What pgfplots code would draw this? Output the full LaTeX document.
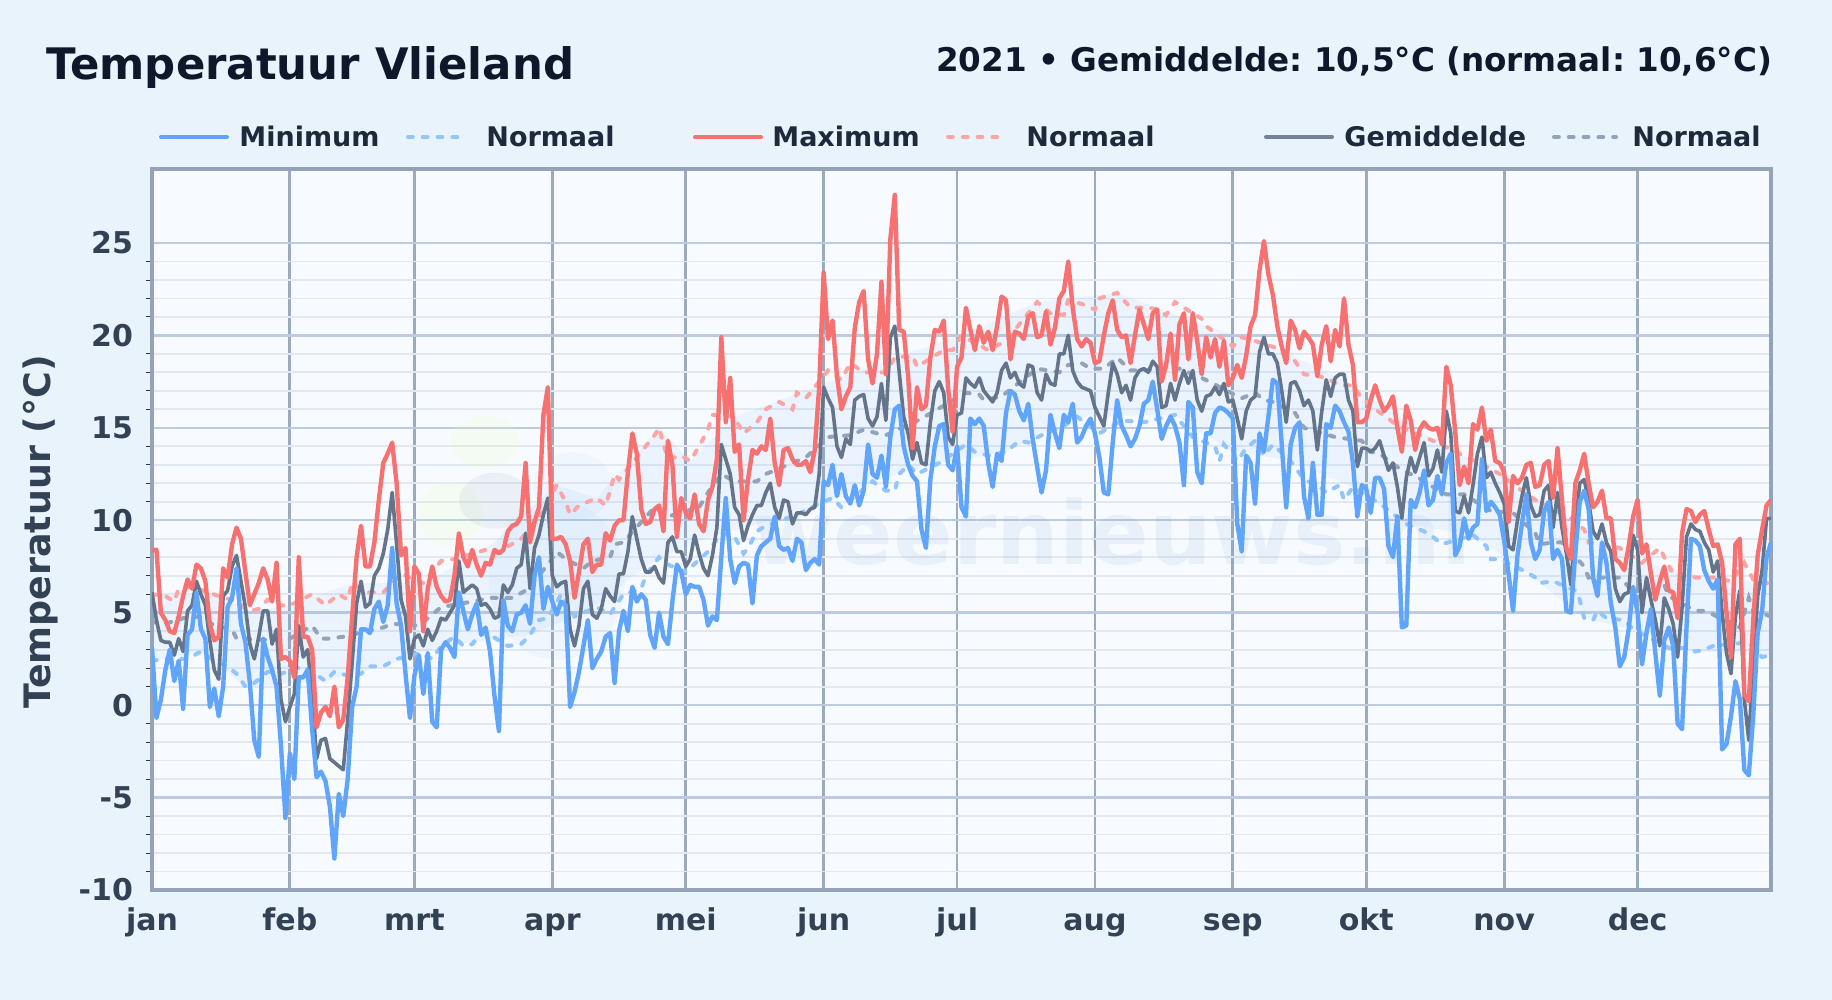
\documentclass[border=0pt]{standalone}
\usepackage{fontspec}
\setmainfont{DejaVu Sans}
\usepackage{pgfplots}
\usepackage{pgfplotstable}
\pgfplotsset{compat=1.18}
\definecolor{pagebg}{HTML}{E8F3FC}
\definecolor{plotbg}{HTML}{F7FBFF}
\definecolor{cmin}{HTML}{60A5FA}
\definecolor{cmax}{HTML}{F87171}
\definecolor{cavg}{HTML}{64748B}
\definecolor{nmin}{HTML}{93C5FD}
\definecolor{nmax}{HTML}{FCA5A5}
\definecolor{navg}{HTML}{94A3B8}
\definecolor{ctitle}{HTML}{0F172A}
\definecolor{clegend}{HTML}{1E293B}
\definecolor{ctick}{HTML}{334155}
\definecolor{cframe}{HTML}{94A3B8}
\definecolor{gmaj}{HTML}{BECADD}
\definecolor{gmin}{HTML}{E2E8F0}
\definecolor{gmon}{HTML}{9CAABE}
\definecolor{wmark}{HTML}{5B8FC9}
\pgfplotstableread{
d mn av mx
0 3.1 6.1 8.4
1 -0.7 4.6 8.4
2 0.3 3.5 5.0
3 1.9 3.4 4.6
4 3.0 3.4 4.0
5 1.3 2.7 3.9
6 2.4 3.6 4.8
7 -0.2 2.9 5.9
8 3.8 5.1 6.8
9 4.1 5.4 6.3
10 6.1 6.7 7.6
11 4.1 6.0 7.4
12 3.6 5.4 6.7
13 -0.1 3.5 4.4
14 0.9 1.9 3.5
15 -0.6 1.4 3.7
16 1.0 5.9 7.4
17 5.3 6.2 6.9
18 5.8 7.5 8.7
19 7.4 8.1 9.6
20 4.4 6.7 9.0
21 3.4 5.3 7.2
22 1.2 3.3 5.4
23 -1.9 2.5 6.0
24 -2.8 3.7 6.6
25 3.6 5.1 7.4
26 2.6 5.1 6.8
27 1.9 3.3 5.6
28 1.0 4.1 7.7
29 -2.2 0.3 2.5
30 -6.1 -0.9 2.6
31 -2.6 -0.1 2.4
32 -4.0 0.6 1.5
33 1.5 4.3 8.0
34 1.5 2.6 3.7
35 1.9 3.0 3.7
36 -1.3 0.6 3.0
37 -3.9 -2.9 -1.2
38 -3.6 -1.9 -0.4
39 -4.1 -1.8 -0.1
40 -5.5 -2.9 -0.6
41 -8.3 -3.1 1.0
42 -4.8 -3.3 -1.2
43 -6.0 -3.5 -0.8
44 -4.0 -0.8 1.5
45 -0.1 2.3 4.8
46 1.0 5.5 8.0
47 4.1 6.7 9.7
48 4.1 5.3 7.5
49 3.9 5.5 7.5
50 5.2 7.0 8.8
51 5.6 7.4 11.1
52 4.5 8.2 13.1
53 5.4 9.5 13.6
54 8.5 11.5 14.2
55 5.5 8.7 12.0
56 4.3 5.7 8.1
57 1.7 4.8 8.5
58 -0.7 2.5 4.0
59 1.6 3.6 7.5
60 2.7 3.8 7.1
61 0.6 3.2 4.0
62 2.8 4.1 6.3
63 -0.9 3.5 7.5
64 -1.2 4.0 6.4
65 3.0 4.7 5.9
66 3.4 4.6 5.6
67 3.1 5.0 5.7
68 2.6 5.4 7.0
69 6.1 7.8 9.3
70 5.1 6.1 8.0
71 4.1 6.3 7.5
72 4.9 6.5 8.4
73 5.5 6.3 7.6
74 3.8 5.4 7.0
75 4.2 5.5 7.7
76 2.9 5.2 7.6
77 0.5 4.7 8.4
78 -1.4 4.8 8.2
79 5.7 6.5 8.4
80 4.3 6.1 9.4
81 4.0 6.5 9.7
82 4.9 7.4 9.8
83 5.0 7.6 10.2
84 5.4 9.3 13.1
85 4.4 6.3 8.8
86 7.0 8.5 9.9
87 8.0 9.2 10.7
88 5.2 10.3 15.7
89 6.4 11.2 17.2
90 5.6 7.0 9.0
91 4.9 6.4 9.0
92 5.6 6.6 9.1
93 5.4 6.7 8.7
94 -0.1 4.1 7.8
95 0.7 3.2 5.8
96 1.8 4.3 7.2
97 3.2 6.3 8.7
98 4.6 6.7 9.0
99 2.0 4.9 7.2
100 2.5 4.7 7.6
101 2.9 5.2 7.6
102 3.7 6.3 9.3
103 3.9 5.9 8.9
104 1.2 5.6 9.7
105 4.0 7.1 10.0
106 5.1 7.1 10.0
107 4.0 8.3 12.6
108 6.4 10.2 14.7
109 5.6 9.0 13.6
110 6.0 7.9 10.6
111 5.7 7.2 9.8
112 3.8 7.2 9.9
113 3.1 7.5 10.6
114 5.0 6.9 10.8
115 3.7 6.6 9.4
116 3.3 8.8 14.3
117 5.6 9.1 13.0
118 7.6 8.3 9.1
119 7.2 8.3 11.2
120 6.0 7.5 10.4
121 6.5 7.9 10.1
122 6.4 9.2 11.4
123 6.4 8.2 9.8
124 5.7 7.4 9.4
125 4.3 7.0 11.1
126 4.8 8.1 11.8
127 4.6 9.6 13.3
128 8.0 14.1 19.9
129 11.2 13.3 15.3
130 7.9 12.5 17.7
131 6.6 10.7 13.7
132 7.5 10.3 14.1
133 7.7 8.9 10.0
134 7.6 9.7 12.2
135 5.5 10.3 13.8
136 8.1 10.8 13.6
137 8.6 10.8 14.0
138 8.8 11.5 13.8
139 9.0 12.0 15.5
140 10.2 10.7 13.1
141 8.6 10.1 11.9
142 8.4 11.1 13.8
143 8.5 11.0 13.9
144 7.8 9.8 13.3
145 9.0 10.4 13.0
146 8.8 10.4 13.0
147 7.3 10.3 13.2
148 7.7 10.6 12.6
149 7.9 10.7 13.8
150 7.6 12.5 17.2
151 12.1 17.2 23.4
152 11.9 16.6 19.8
153 13.0 16.1 20.8
154 11.3 14.0 17.8
155 12.5 13.4 16.0
156 11.3 14.4 16.7
157 10.9 14.1 17.2
158 11.9 16.5 20.4
159 10.8 16.7 21.8
160 11.6 16.8 22.4
161 14.1 15.5 18.7
162 12.5 15.1 17.4
163 12.3 15.6 19.0
164 13.5 17.4 22.9
165 11.8 15.4 17.9
166 14.5 19.9 25.2
167 16.0 20.5 27.6
168 16.2 18.0 20.3
169 14.0 15.6 20.2
170 13.0 14.7 17.8
171 12.4 13.3 13.9
172 12.1 14.2 17.2
173 9.5 13.1 16.0
174 8.5 13.0 16.2
175 12.2 15.3 18.8
176 14.0 17.0 20.3
177 15.1 17.5 20.2
178 15.2 16.9 20.8
179 13.0 14.5 17.1
180 12.7 14.1 14.8
181 14.0 15.7 18.3
182 10.7 15.8 18.8
183 10.2 17.7 21.5
184 15.5 17.4 20.3
185 15.2 17.2 19.2
186 15.5 17.7 20.5
187 15.1 17.0 19.6
188 13.1 16.7 20.2
189 11.8 16.4 19.2
190 13.6 16.9 20.5
191 13.2 18.1 22.1
192 15.8 18.5 21.9
193 17.0 17.7 18.7
194 16.8 18.0 20.2
195 15.9 17.4 20.1
196 15.4 17.2 19.8
197 16.3 18.4 21.0
198 14.4 18.3 21.2
199 12.9 16.9 19.9
200 11.5 16.5 20.0
201 12.7 17.9 21.3
202 15.7 17.4 19.5
203 14.7 17.3 20.4
204 13.9 19.0 22.0
205 15.7 19.0 22.4
206 15.3 20.0 24.0
207 16.3 18.1 21.5
208 14.2 17.5 19.8
209 14.5 17.2 19.4
210 15.1 17.1 19.8
211 15.5 17.0 19.6
212 14.7 16.1 18.5
213 13.4 15.6 18.6
214 11.5 15.1 20.0
215 11.4 16.9 21.2
216 14.2 18.5 21.9
217 16.5 17.9 20.3
218 15.1 16.9 19.9
219 14.6 17.3 20.0
220 14.0 16.5 18.5
221 14.4 17.7 20.0
222 15.1 18.1 21.4
223 16.3 18.2 20.6
224 16.5 18.0 19.8
225 17.5 18.6 21.2
226 16.0 18.3 21.4
227 14.4 16.1 17.5
228 15.1 16.2 18.4
229 15.6 17.4 20.1
230 15.1 16.5 17.6
231 14.2 17.4 20.6
232 11.9 18.1 21.2
233 16.4 17.4 18.7
234 16.1 18.1 21.2
235 12.6 16.5 19.7
236 12.0 15.9 17.9
237 14.7 16.7 19.9
238 14.7 16.8 18.8
239 15.8 17.2 19.8
240 16.1 16.8 18.3
241 16.0 17.4 19.7
242 15.8 16.4 17.3
243 15.5 16.5 17.7
244 9.8 15.5 18.4
245 8.3 14.4 17.7
246 13.5 15.9 18.9
247 13.1 16.5 20.5
248 10.9 16.7 21.1
249 14.7 19.1 23.5
250 13.7 19.9 25.1
251 15.6 19.0 23.3
252 17.6 19.0 22.2
253 17.4 18.5 20.5
254 14.1 17.0 19.4
255 10.7 15.3 18.5
256 14.1 17.4 20.8
257 15.0 17.5 20.3
258 15.3 17.0 19.3
259 11.3 16.2 20.2
260 10.1 16.5 19.9
261 13.1 15.9 19.5
262 10.3 13.8 17.8
263 10.3 15.9 19.5
264 15.2 17.6 20.5
265 15.0 16.7 18.6
266 16.2 17.7 20.3
267 15.9 17.9 19.4
268 15.3 17.9 22.0
269 14.8 16.5 19.5
270 13.1 15.9 18.4
271 10.2 12.9 15.3
272 11.9 13.9 15.3
273 11.7 13.9 15.5
274 10.4 13.7 16.5
275 12.3 13.9 17.3
276 12.3 14.3 16.5
277 11.7 13.5 15.9
278 8.6 12.7 16.2
279 8.0 13.1 16.7
280 10.2 11.8 15.0
281 4.2 10.1 13.7
282 4.3 12.3 16.2
283 11.1 13.4 15.4
284 10.7 12.6 13.8
285 11.5 13.4 14.9
286 12.7 14.2 15.3
287 10.8 12.4 15.0
288 11.1 12.8 14.9
289 12.4 13.8 15.0
290 11.4 12.6 14.1
291 13.1 15.9 18.3
292 13.6 14.7 17.3
293 8.1 10.5 14.8
294 8.6 10.4 11.9
295 10.1 11.3 12.9
296 9.0 10.4 12.0
297 9.6 11.9 15.2
298 9.8 13.6 14.9
299 13.3 14.5 16.1
300 10.5 12.3 14.3
301 11.0 12.6 14.9
302 10.7 12.0 13.2
303 10.3 11.5 13.1
304 8.9 10.9 12.6
305 7.1 8.6 9.9
306 5.1 8.4 12.4
307 8.1 10.0 12.0
308 9.8 11.3 12.3
309 11.4 12.3 13.0
310 8.8 10.8 13.1
311 7.9 10.2 11.8
312 8.4 10.3 11.9
313 10.5 11.6 13.0
314 11.0 11.9 13.2
315 7.9 9.6 11.2
316 8.4 11.5 13.9
317 7.9 9.6 11.1
318 5.1 8.2 8.5
319 5.0 6.5 7.9
320 8.2 9.7 12.0
321 11.0 12.0 12.7
322 11.6 12.2 13.6
323 10.6 11.0 12.0
324 6.9 9.4 10.7
325 5.9 9.0 11.0
326 8.8 9.8 11.6
327 7.7 8.8 10.1
328 5.5 8.3 10.1
329 4.2 6.3 7.9
330 2.1 5.6 7.7
331 2.6 6.0 7.3
332 4.1 6.1 8.6
333 6.4 9.2 10.2
334 5.0 8.4 11.1
335 2.2 5.0 8.2
336 3.9 6.9 8.7
337 5.2 5.7 7.1
338 2.8 4.6 5.7
339 0.5 3.2 6.7
340 3.5 5.8 7.5
341 4.2 5.2 6.2
342 3.2 4.4 6.1
343 -1.0 2.6 4.7
344 -1.3 5.3 9.3
345 4.2 9.1 10.6
346 9.0 9.8 10.5
347 8.9 9.5 9.9
348 8.6 9.4 10.3
349 7.3 8.8 10.5
350 6.7 8.4 9.5
351 6.3 7.2 8.6
352 6.8 7.8 8.7
353 -2.4 5.0 7.7
354 -2.1 2.8 5.0
355 -0.6 1.7 2.6
356 1.3 4.8 8.7
357 0.3 6.2 9.0
358 -3.5 0.3 0.6
359 -3.8 -1.9 0.2
360 -0.6 2.1 4.6
361 3.9 5.9 8.1
362 5.1 7.3 9.5
363 8.0 10.1 10.8
364 8.8 10.1 11.1
}\daily
\pgfplotstableread{
d v
0 2.4
3 2.5
8 2.5
11 2.9
14 2.4
17 2.1
19 1.7
21 1.0
23 1.2
26 1.8
29 1.7
34 2.1
36 1.8
39 1.3
41 1.8
44 1.6
47 1.7
49 2.1
52 2.1
55 2.5
60 2.8
63 2.5
65 3.2
68 3.7
70 3.2
72 3.3
74 3.9
76 3.8
80 3.2
83 3.3
85 3.8
87 4.6
89 4.7
92 6.0
95 4.8
98 5.1
100 5.3
103 4.9
104 5.3
106 6.0
110 6.3
111 7.0
114 8.0
116 7.6
120 7.2
125 8.3
128 9.3
131 9.1
133 8.2
134 8.5
136 9.4
138 9.7
145 10.3
150 10.9
153 11.2
155 10.7
162 12.1
165 11.6
167 11.6
168 12.5
170 13.0
172 12.5
177 13.1
183 14.1
185 13.7
188 13.5
192 13.7
195 14.3
197 14.2
200 14.6
205 15.1
208 15.6
213 14.7
218 15.4
223 15.3
230 15.7
232 15.1
234 14.5
239 14.0
240 13.2
241 14.1
242 13.8
244 13.2
246 13.9
248 14.3
250 13.5
252 14.1
256 13.2
259 12.2
262 11.9
264 11.5
267 11.9
268 11.1
270 11.8
276 10.9
282 9.8
284 9.6
286 9.4
288 9.1
290 8.7
297 9.2
300 8.6
301 7.9
303 7.9
309 7.2
311 6.9
312 6.6
315 6.7
320 6.2
321 5.7
322 4.7
324 4.6
325 5.1
327 4.7
331 4.6
333 4.1
341 3.1
345 3.1
347 2.9
349 3.0
351 3.2
359 3.4
362 2.6
364 2.7
}\nmintab
\pgfplotstableread{
d v
0 6.0
3 5.9
5 5.6
6 6.3
9 6.4
15 5.9
18 5.7
22 5.1
24 5.2
26 5.7
29 5.4
31 5.4
36 6.0
39 5.4
42 6.0
44 5.7
45 6.6
48 6.1
52 6.1
56 7.1
61 6.6
65 7.8
68 7.9
75 8.4
78 8.3
83 9.0
88 10.5
91 11.9
93 11.0
94 10.3
96 10.8
98 11.0
100 11.2
102 10.8
103 11.6
104 12.5
105 12.2
106 12.5
111 14.0
113 14.6
114 15.0
115 14.1
116 13.3
119 13.5
121 13.2
123 14.0
125 14.9
126 15.7
131 15.6
132 15.1
133 14.7
136 15.3
138 16.0
141 16.4
144 16.0
145 16.9
147 16.6
149 17.2
152 18.1
155 17.6
157 18.5
160 18.0
165 18.0
167 18.8
171 18.9
172 18.3
178 19.2
180 19.2
182 20.0
188 19.2
192 19.7
199 21.8
202 21.2
205 21.1
206 21.9
209 21.7
212 21.4
213 22.0
217 22.3
220 21.5
224 21.5
226 21.4
228 21.1
230 21.8
236 20.9
237 20.5
242 19.6
243 19.4
245 19.9
248 19.7
253 19.3
257 18.6
259 17.9
262 17.8
264 17.7
267 17.3
270 17.3
272 16.6
275 16.0
278 15.5
280 15.1
289 14.2
294 13.6
300 12.9
303 12.5
308 11.6
311 11.1
319 10.1
322 9.5
323 8.8
330 8.5
335 7.7
339 8.5
340 8.0
342 7.1
347 6.9
351 6.9
355 6.7
358 7.7
360 6.8
362 6.6
364 6.6
}\nmaxtab
\pgfplotstableread{
d v
0 4.5
3 4.4
7 4.7
11 4.8
14 4.3
18 4.1
19 3.6
29 3.5
31 3.6
36 4.3
38 3.6
40 3.6
43 3.7
52 4.2
54 4.4
60 4.3
65 5.3
72 5.6
76 5.8
81 5.8
84 6.2
89 7.6
91 8.3
93 7.9
97 7.4
99 7.8
103 8.0
104 8.7
106 8.8
110 9.9
113 10.7
116 10.2
123 10.7
125 11.5
128 12.5
131 12.1
136 12.1
138 12.5
143 13.0
147 13.4
152 14.5
157 14.6
160 14.9
163 14.7
165 14.6
173 15.5
178 16.2
183 16.9
186 16.8
187 16.5
191 16.7
199 18.2
204 18.0
206 18.4
209 18.5
211 18.2
214 18.2
217 18.8
220 18.1
231 18.2
236 17.7
245 16.6
248 16.9
250 16.5
252 16.4
257 15.8
259 15.0
266 14.5
272 14.3
274 13.7
276 13.6
281 12.7
284 12.4
288 11.8
291 11.4
295 11.4
301 10.5
306 10.4
311 9.3
312 8.7
315 8.8
317 8.8
322 7.5
323 6.9
327 6.9
330 6.9
332 6.4
337 6.0
340 6.5
341 5.9
347 5.1
349 5.1
351 4.9
357 4.2
359 5.8
360 5.1
364 4.8
}\navgtab
\pgfplotstableread{
d v
0 6.0
15 5.9
22 5.1
31 5.4
45 6.6
61 6.6
75 8.4
91 11.9
100 11.2
114 15.0
121 13.2
131 15.6
149 17.2
167 18.8
182 20.0
199 21.8
217 22.3
237 20.5
253 19.3
270 17.3
289 14.2
303 12.5
322 9.5
335 7.7
351 6.9
364 6.6
364 2.7
347 2.9
333 4.1
322 4.7
309 7.2
297 9.2
282 9.8
270 11.8
256 13.2
242 13.8
230 15.7
208 15.6
192 13.7
177 13.1
162 12.1
145 10.3
128 9.3
114 8.0
98 5.1
85 3.8
65 3.2
52 2.1
39 1.3
21 1.0
11 2.9
0 2.4
}\bandtab
\frenchspacing
\begin{document}
\begin{tikzpicture}[x=1pt,y=1pt]
\fill[pagebg] (0,0) rectangle (916,500);
\begin{axis}[
  at={(76pt,55pt)}, anchor=south west,
  scale only axis, width=809.5pt, height=360.5pt,
  xmin=0, xmax=364, ymin=-10, ymax=29,
  axis background/.style={fill=plotbg},
  axis line style={draw=cframe, line width=1.6pt},
  xtick={0,31,59,90,120,151,181,212,243,273,304,334},
  xticklabels={jan,feb,mrt,apr,mei,jun,jul,aug,sep,okt,nov,dec},
  ytick={-10,-5,0,5,10,15,20,25},
  minor y tick num=4,
  xmajorgrids, ymajorgrids, yminorgrids,
  major x grid style={draw=gmon, line width=1.4pt},
  major y grid style={draw=gmaj, line width=1.2pt},
  minor y grid style={draw=gmin, line width=0.9pt},
  major tick length=0pt,
  minor tick length=3pt,
  minor tick style={draw=black!80, line width=0.4pt},
  tick align=outside,
  xtick pos=bottom, ytick pos=left,
  /pgf/number format/assume math mode=true,
  ticklabel style={font=\bfseries\fontsize{15}{17}\selectfont, text=ctick},
  xticklabel style={text height=11pt, text depth=3pt, yshift=-5.5pt},
  yticklabel style={xshift=-6pt},
  clip=true,
]
\node[anchor=base, text=wmark, opacity=.09, font=\bfseries\fontsize{44}{47}\selectfont] at (rel axis cs:0.593,0.452) {weernieuws.nl};
\fill[green!30!yellow!30, opacity=.15] (rel axis cs:0.2055,0.622) ellipse (17.5pt and 13pt);
\fill[green!30!yellow!30, opacity=.15] (rel axis cs:0.184,0.5215) ellipse (16pt and 16pt);
\fill[gmon, opacity=.13] (rel axis cs:0.212,0.54) ellipse (18pt and 14pt);
\fill[cmin, opacity=.05] (rel axis cs:0.26,0.56) ellipse (20pt and 17pt);
\fill[cmin, opacity=.05] (rel axis cs:0.25,0.43) ellipse (34pt and 40pt);
\addplot[fill=cmin, fill opacity=.08, draw=none] table[x=d,y=v] {\bandtab} -- cycle;
\addplot[color=nmax, line width=2pt, line cap=round, dash pattern=on 2.4pt off 5pt] table[x=d,y=v] {\nmaxtab};
\addplot[color=nmin, line width=2pt, line cap=round, dash pattern=on 2.4pt off 5pt] table[x=d,y=v] {\nmintab};
\addplot[color=navg, line width=2pt, line cap=round, dash pattern=on 2.4pt off 5pt] table[x=d,y=v] {\navgtab};
\addplot[color=cavg, line width=1.8pt, line join=round] table[x=d,y=av] {\daily};
\addplot[color=cmin, line width=2.2pt, line join=round] table[x=d,y=mn] {\daily};
\addplot[color=cmax, line width=2.2pt, line join=round] table[x=d,y=mx] {\daily};
\end{axis}
% titles
\node[anchor=base west, text=ctitle, font=\bfseries\fontsize{21.7}{26}\selectfont] at (19.7,460) {Temperatuur Vlieland};
\node[anchor=base east, text=ctitle, font=\bfseries\fontsize{16.3}{20}\selectfont] at (889.5,464.3) {2021 • Gemiddelde: 10,5°C (normaal: 10,6°C)};
\node[rotate=90, text=ctick, font=\bfseries\fontsize{18.2}{22}\selectfont] at (20,234) {Temperatuur (°C)};
% legend
\def\legy{431.5}
\def\legf{\bfseries\fontsize{13.5}{16}\selectfont}
\draw[cmin, line width=2pt, line cap=round] (80.5,\legy) -- (113.5,\legy);
\node[anchor=base west, inner sep=0pt, text=clegend, font=\legf] at (119.5,426.7) {Minimum};
\draw[nmin, line width=2pt, line cap=round, dash pattern=on 2.4pt off 5pt] (204,\legy) -- (232,\legy);
\node[anchor=base west, inner sep=0pt, text=clegend, font=\legf] at (243,426.7) {Normaal};
\draw[cmax, line width=2pt, line cap=round] (347.5,\legy) -- (380.5,\legy);
\node[anchor=base west, inner sep=0pt, text=clegend, font=\legf] at (386,426.7) {Maximum};
\draw[nmax, line width=2pt, line cap=round, dash pattern=on 2.4pt off 5pt] (474,\legy) -- (502,\legy);
\node[anchor=base west, inner sep=0pt, text=clegend, font=\legf] at (513,426.7) {Normaal};
\draw[cavg!90!white, line width=2pt, line cap=round] (633,\legy) -- (666,\legy);
\node[anchor=base west, inner sep=0pt, text=clegend, font=\legf] at (672,426.7) {Gemiddelde};
\draw[navg, line width=2pt, line cap=round, dash pattern=on 2.4pt off 5pt] (777,\legy) -- (808,\legy);
\node[anchor=base west, inner sep=0pt, text=clegend, font=\legf] at (816,426.7) {Normaal};
\end{tikzpicture}
\end{document}
